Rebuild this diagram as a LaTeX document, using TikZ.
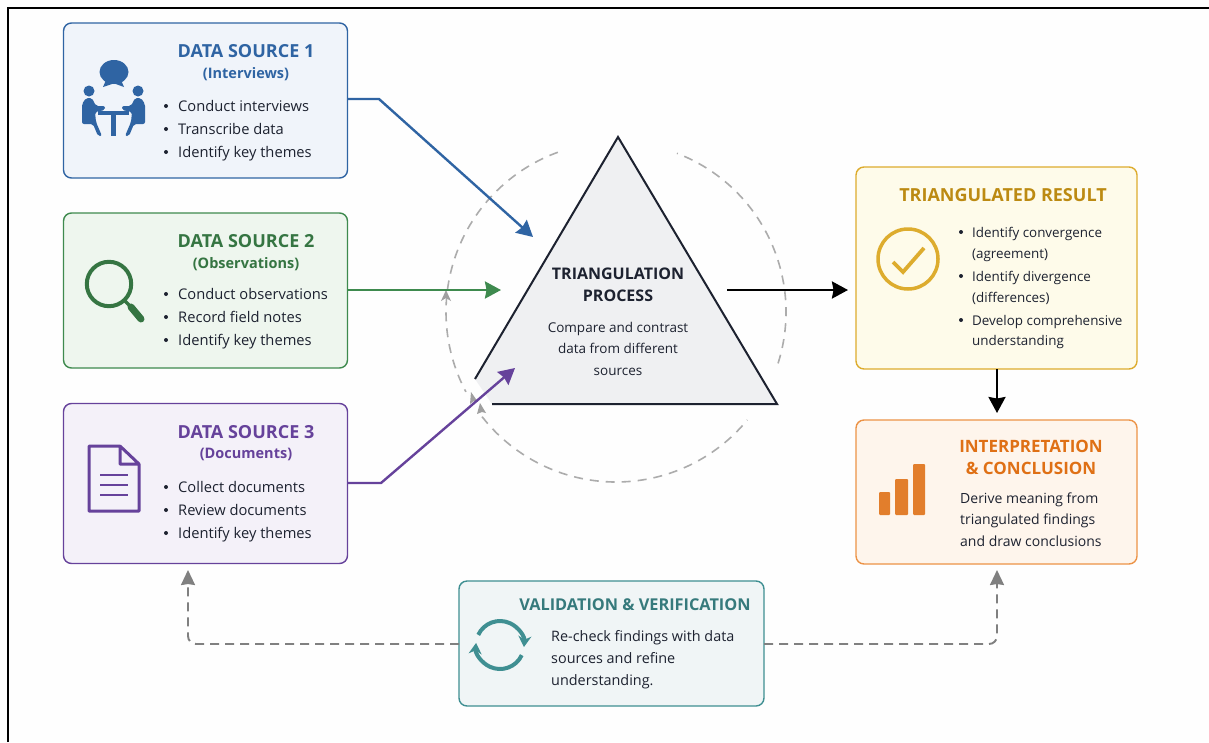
\documentclass[tikz,border=0pt]{standalone}
\usepackage{fontspec}
\setmainfont{Open Sans}
\usepackage{tikz}
\usetikzlibrary{arrows.meta,positioning}

\definecolor{blueline}{HTML}{2F64A3}
\definecolor{bluefill}{HTML}{F0F4FA}
\definecolor{greenline}{HTML}{3E8A4E}
\definecolor{greenfill}{HTML}{EEF6EE}
\definecolor{purpleline}{HTML}{66429B}
\definecolor{purplefill}{HTML}{F4F1F9}
\definecolor{goldline}{HTML}{DDAC2E}
\definecolor{goldfill}{HTML}{FEFBEA}
\definecolor{goldtext}{HTML}{BC8A12}
\definecolor{orangeline}{HTML}{EC9347}
\definecolor{orangefill}{HTML}{FEF5EC}
\definecolor{orangetext}{HTML}{DF7015}
\definecolor{tealline}{HTML}{3F8F92}
\definecolor{tealfill}{HTML}{F0F5F6}
\definecolor{trifill}{HTML}{EFF0F2}
\definecolor{darktext}{HTML}{1D2230}
\definecolor{feedgrey}{HTML}{808080}
\definecolor{paper}{HTML}{FEFEFE}

\tikzset{
  panel/.style={draw,rounded corners=8pt,line width=1.4pt,anchor=north west,outer sep=0pt},
  head/.style={font=\fontsize{18}{22}\selectfont\bfseries,align=center,inner sep=0pt},
  sub/.style={font=\fontsize{14.5}{17}\selectfont\bfseries,align=center,inner sep=0pt},
  body/.style={font=\fontsize{14.7}{17}\selectfont,text=darktext,inner sep=0pt,anchor=west,text height=14pt,text depth=3pt},
  dot/.style={circle,fill=darktext,inner sep=0pt,minimum size=4pt},
  block/.style={font=\fontsize{14}{21.5}\selectfont,text=darktext,inner sep=0pt,anchor=west,align=left},
  feed/.style={-{Stealth[length=15pt,width=14pt,inset=1pt]},line width=1.9pt,color=feedgrey,dash pattern=on 9pt off 6pt,rounded corners=8pt},
  link/.style={-{Stealth[length=16pt,width=17pt,inset=1.5pt]},line width=2.4pt},
  ringarc/.style={draw=gray!65,dash pattern=on 9pt off 7pt,line width=1.6pt},
}

\begin{document}
\begin{tikzpicture}[x=1pt,y=-1pt]

  \useasboundingbox (0,0) rectangle (1209,742);
  \fill[paper] (0,0) rectangle (1209,742);

  % frame
  \draw[line width=2pt,black] (8,742) -- (8,8) -- (1209,8);

  % sources
  \node[panel,draw=blueline,fill=bluefill,minimum width=284pt,minimum height=155pt] (src1) at (63.5,23) {};
  \node[panel,draw=greenline,fill=greenfill,minimum width=284pt,minimum height=155pt] (src2) at (63.5,213) {};
  \node[panel,draw=purpleline,fill=purplefill,minimum width=284pt,minimum height=160pt] (src3) at (63.5,403.5) {};

  \node[head,text=blueline] (src1head) at (246,51) {DATA SOURCE 1};
  \node[sub,text=blueline] (src1sub) at (246,74) {(Interviews)};
  \node[head,text=greenline!85!black] (src2head) at (246,241) {DATA SOURCE 2};
  \node[sub,text=greenline!85!black] (src2sub) at (246,264) {(Observations)};
  \node[head,text=purpleline] (src3head) at (246,432) {DATA SOURCE 3};
  \node[sub,text=purpleline] (src3sub) at (246,454) {(Documents)};

  \foreach \nm/\ya/\yb/\yc/\ta/\tb/\tc in {
      a/106/129/152/Conduct interviews/Transcribe data/Identify key themes,
      b/294/317/340/Conduct observations/Record field notes/Identify key themes,
      c/487/510/533/Collect documents/Review documents/Identify key themes}{
    \node[dot] (\nm dot1) at (166,\ya) {};
    \node[dot] (\nm dot2) at (166,\yb) {};
    \node[dot] (\nm dot3) at (166,\yc) {};
    \node[body] (\nm txt1) at (178,\ya) {\ta};
    \node[body] (\nm txt2) at (178,\yb) {\tb};
    \node[body] (\nm txt3) at (178,\yc) {\tc};
  }

  % people at a table
  \begin{scope}[blueline]
    \fill (114,72) ellipse (14.5pt and 12pt);
    \fill (106,80) -- (103,87) -- (115,83) -- cycle;
    \fill (121,80) -- (124,87) -- (113,83) -- cycle;
    \fill (89,91) circle (5.5pt);
    \fill (138,91) circle (5.5pt);
    \fill[rounded corners=2pt] (82,124) -- (82,104) -- (86,98) -- (92,98) -- (96,106) -- (105,106) -- (105,110) -- (95,112) -- (96,122) -- (102,136) -- (98,136) -- (93,124) -- cycle;
    \fill[rounded corners=2pt] (145,124) -- (145,104) -- (141,98) -- (135,98) -- (131,106) -- (122,106) -- (122,110) -- (132,112) -- (131,122) -- (125,136) -- (129,136) -- (134,124) -- cycle;
    \fill (98,111) rectangle (129,115);
    \fill (111,115) rectangle (116,136);
  \end{scope}

  % magnifier
  \draw[greenline!85!black,line width=4pt] (109,284) circle (22.2pt);
  \draw[greenline!85!black,line width=3.5pt] (124,300) -- (132,308);
  \draw[greenline!85!black,line width=7pt,line cap=round] (131,307) -- (141,319);

  % document
  \draw[purpleline,line width=3pt,line join=round] (120,446) -- (89,446) -- (89,511) -- (139,511) -- (139,464) -- (120,446) -- (120,464) -- (139,464);
  \foreach \yy in {475,485,495}
    \draw[purpleline,line width=2.8pt] (100,\yy) -- (128,\yy);

  % centre
  \coordinate (ringc) at (616,312);
  \draw[ringarc] (ringc) ++(-17.6:170pt) arc (-17.6:69:170pt);
  \draw[ringarc] (ringc) ++(110:170pt) arc (110:208:170pt);
  \draw[ringarc] (ringc) ++(218:170pt) arc (218:320.6:170pt);
  \fill[gray!75] (446,290) -- (451,301) -- (446,298) -- (441,301) -- cycle;
  \fill[gray!75] (471,392) -- (478,402) -- (474,401) -- (470,404) -- cycle;
  \fill[gray!75] (480,403) -- (486,413) -- (482,412) -- (477,414) -- cycle;

  \coordinate (tritop) at (618,137);
  \coordinate (trileft) at (475,379);
  \coordinate (triright) at (777,404);
  \coordinate (tribase) at (492,404);
  \fill[trifill] (tritop) -- (triright) -- (tribase) -- (trileft) -- cycle;
  \draw[darktext,line width=2pt] (trileft) -- (tritop) -- (triright) -- (tribase);

  \node[font=\fontsize{16}{22}\selectfont\bfseries,text=darktext,align=center,inner sep=0pt] (tproc) at (618,285) {TRIANGULATION\\PROCESS};
  \node[font=\fontsize{13.5}{21.5}\selectfont,text=darktext,align=center,inner sep=0pt] (tdesc) at (618,348.5) {Compare and contrast\\data from different\\sources};

  % result
  \node[panel,draw=goldline,fill=goldfill,minimum width=281pt,minimum height=202pt] (result) at (856,167) {};
  \node[head,text=goldtext] (resulthead) at (1003,195) {TRIANGULATED RESULT};
  \foreach \yy/\tx in {232/Identify convergence,276/Identify divergence,320/Develop comprehensive}{
    \node[dot] at (961,\yy) {};
    \node[body,font=\fontsize{13.4}{17}\selectfont] at (972,\yy) {\tx};
  }
  \node[body,font=\fontsize{13.4}{17}\selectfont] (resa) at (972,253) {(agreement)};
  \node[body,font=\fontsize{13.4}{17}\selectfont] (resb) at (972,297) {(differences)};
  \node[body,font=\fontsize{13.4}{17}\selectfont] (resc) at (972,340) {understanding};
  \draw[goldline,line width=3.5pt] (908,259) circle (30pt);
  \draw[goldline,line width=3.8pt] (893,262) -- (903,272) -- (924,248);

  % conclusion
  \node[panel,draw=orangeline,fill=orangefill,minimum width=281pt,minimum height=144pt] (concl) at (856,420) {};
  \node[head,font=\fontsize{17}{22}\selectfont\bfseries,text=orangetext] (conclhead) at (1031,457) {INTERPRETATION\\\& CONCLUSION};
  \node[block] (conclbody) at (960,519.5) {Derive meaning from\\triangulated findings\\and draw conclusions};
  \foreach \xa/\xb/\yy in {879/890/492,895/908/479,913/925/464}
    \fill[orangetext!90!white,rounded corners=1pt] (\xa,\yy) rectangle (\xb,515);

  % validation
  \node[panel,draw=tealline,fill=tealfill,minimum width=305pt,minimum height=125pt] (valid) at (459,581) {};
  \node[font=\fontsize{16.3}{18}\selectfont\bfseries,text=tealline!85!black,inner sep=0pt] (validhead) at (635,605) {VALIDATION \& VERIFICATION};
  \node[block,font=\fontsize{14.4}{22}\selectfont] (validbody) at (551,660) {Re-check findings with data\\sources and refine\\understanding.};
  \coordinate (cyclec) at (500,645);
  \draw[tealline,line width=4pt,-{Stealth[length=11pt,width=13pt]}] (cyclec) ++(155:24pt) arc (155:-5:24pt);
  \draw[tealline,line width=4pt,-{Stealth[length=11pt,width=13pt]}] (cyclec) ++(-25:24pt) arc (-25:-185:24pt);

  % connectors
  \coordinate (in1) at (533,237);
  \coordinate (in2) at (501,290);
  \coordinate (in3) at (515,368);
  \coordinate (out1) at (727,290);
  \coordinate (out2) at (848,290);
  \coordinate (src1out) at (347.5,99);
  \coordinate (src1bend) at (379,99);
  \coordinate (src2out) at (347.5,290);
  \coordinate (src3out) at (347.5,483);
  \coordinate (src3bend) at (381,483);
  \coordinate (feedl) at (188,644);
  \coordinate (feedr) at (997,644);
  \coordinate (feedltip) at (188,570);
  \coordinate (feedrtip) at (997,570);

  \draw[link,blueline] (src1out) -- (src1bend) -- (in1);
  \draw[link,greenline] (src2out) -- (in2);
  \draw[link,purpleline] (src3out) -- (src3bend) -- (in3);
  \draw[link,black] (out1) -- (out2);
  \draw[link,black,shorten >=7pt] (result.south -| feedr) -- (concl.north -| feedr);
  \draw[feed] (valid.west |- feedl) -- (feedl) -- (feedltip);
  \draw[feed] (valid.east |- feedr) -- (feedr) -- (feedrtip);

\end{tikzpicture}
\end{document}
